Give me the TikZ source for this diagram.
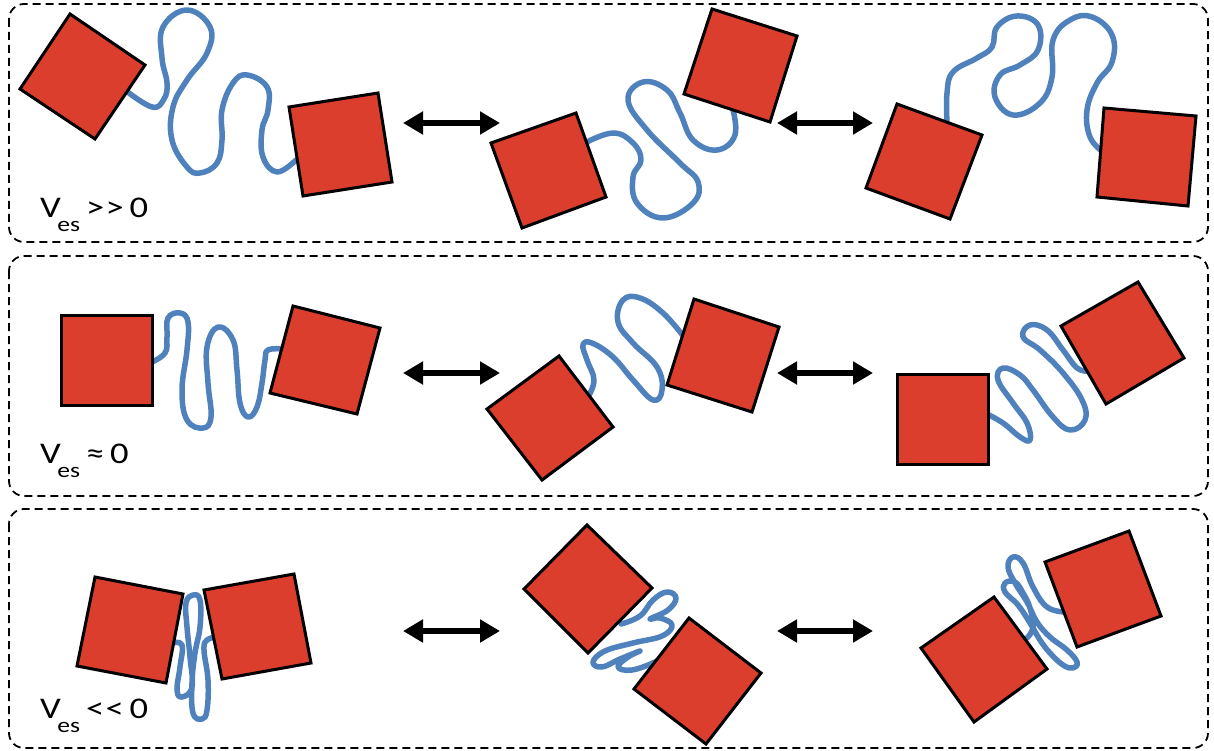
\documentclass[tikz,border=0pt]{standalone}
\usepackage{fontspec}
\setmainfont{Carlito}
\usetikzlibrary{arrows.meta}
\definecolor{boxred}{RGB}{220,62,45}
\definecolor{chainblue}{RGB}{79,129,189}
\newcommand{\veslabel}[1]{\scalebox{1.22}[1]{V\kern-3pt\raisebox{-14pt}{\fontsize{21}{21}\selectfont es}\kern5pt#1}}
\begin{document}
\begin{tikzpicture}[x=1pt,y=-1pt,
  panel/.style={draw=black, line width=1.8pt, dash pattern=on 8pt off 5pt, rounded corners=15pt},
  body/.style={draw=black, line width=3pt, fill=boxred, line join=miter},
  chain/.style={draw=chainblue, line width=5.5pt, line cap=round, line join=round},
  swap/.style={line width=5.5pt, {Triangle[length=20pt,width=22pt]}-{Triangle[length=20pt,width=22pt]}},
  lbl/.style={anchor=base west, inner sep=0pt, font=\fontsize{30}{30}\selectfont}]
\useasboundingbox (0,0) rectangle (1214,751);

% ---------- panel frames ----------
\draw[panel] (9,4) rectangle (1208,242);
\draw[panel] (9,256) rectangle (1208,496);
\draw[panel] (9,509) rectangle (1208,748);

% ---------- labels ----------
\node[lbl] (l1) at (40,218) {\veslabel{>\kern1pt> \kern-2pt0}};
\node[lbl] (l2) at (40,463) {\veslabel{≈ \kern-2pt0}};
\node[lbl] (l3) at (40,718) {\veslabel{<\kern1pt< \kern-2pt0}};

% ---------- exchange arrows ----------
\foreach \y/\n in {123/a, 373/b, 631/c}{
  \coordinate (\n1) at (403,\y);
  \coordinate (\n2) at (500,\y);
  \coordinate (\n3) at (777,\y);
  \coordinate (\n4) at (873,\y);
  \draw[swap] (\n1) -- (\n2);
  \draw[swap] (\n3) -- (\n4);
}

% ---------- linker chains ----------
% top row: extended chains
\draw[chain] plot[smooth, tension=0.7] coordinates {(125,90) (152,107) (164,99) (167,83) (162,58) (163,27) (187,10) (210,27) (207,53) (187,80) (173,107) (172,140) (187,167) (200,173) (217,163) (222,140) (222,110) (233,83) (247,75) (267,87) (268,110) (262,130) (263,157) (277,172) (296,160)};
\draw[chain] plot[smooth, tension=0.7] coordinates {(585,143) (613,133) (633,143) (641,160) (633,177) (637,203) (663,218) (693,203) (698,182) (680,163) (647,130) (628,100) (643,82) (667,90) (680,113) (693,140) (717,150) (735,135) (732,106)};
\draw[chain] plot[smooth, tension=0.7] coordinates {(947,122) (947,93) (953,72) (977,58) (992,47) (997,27) (1017,16) (1038,25) (1038,50) (1020,65) (1000,75) (995,97) (1013,115) (1040,103) (1052,77) (1053,40) (1070,20) (1092,17) (1112,35) (1112,62) (1097,83) (1087,110) (1090,137) (1103,152)};

% middle row
\draw[chain] plot[smooth, tension=0.7] coordinates {(150,363) (165,353) (167,337) (168,318) (180,313) (188,322) (187,350) (182,390) (187,420) (203,428) (211,417) (208,383) (207,347) (218,327) (233,340) (237,370) (240,403) (248,417) (257,407) (262,383) (265,360) (268,350) (283,349)};
\draw[chain] plot[smooth, tension=0.7] coordinates {(588,397) (594,380) (587,360) (583,345) (592,343) (613,357) (633,380) (653,400) (662,390) (657,367) (633,343) (618,322) (623,300) (640,298) (663,313) (684,337)};
\draw[chain] plot[smooth, tension=0.7] coordinates {(985,413) (1003,423) (1020,437) (1030,440) (1027,423) (1013,403) (998,380) (1003,368) (1020,375) (1033,390) (1053,417) (1070,430) (1085,420) (1082,400) (1063,373) (1040,350) (1023,337) (1030,325) (1047,330) (1063,350) (1077,368) (1088,371)};

% bottom row: collapsed chains
\draw[chain] plot[smooth, tension=0.7] coordinates {(172,643) (182,645) (180,667) (177,690) (182,697) (192,687) (190,657) (187,627) (186,603) (193,595) (200,600) (200,627) (195,653) (192,683) (193,713) (202,719) (207,710) (208,680) (204,650) (207,640) (217,637)};
\draw[chain] plot[smooth, tension=0.7] coordinates {(621,624) (640,616) (653,600) (667,592) (676,598) (668,610) (650,619) (660,618) (672,625) (662,636) (633,643) (605,651) (593,662) (602,667) (620,659) (640,651) (628,657) (618,667) (632,670) (655,662) (661,657)};
\draw[chain] plot[smooth, tension=0.7] coordinates {(1065,612) (1047,607) (1033,587) (1023,563) (1013,557) (1008,567) (1015,583) (1027,602) (1037,622) (1050,637) (1067,650) (1077,662) (1073,668) (1063,665) (1050,653) (1040,640) (1030,623) (1018,605) (1005,592) (1005,583) (1015,582) (1023,593) (1030,608) (1033,627) (1027,638)};

% ---------- domains ----------
% top row
\draw[body] (70,14) -- (145,65) -- (95,139) -- (20,89) -- cycle;
\draw[body] (289,107) -- (378,93) -- (392,182) -- (303,196) -- cycle;
\draw[body] (491,143) -- (576,113) -- (606,197) -- (522,228) -- cycle;
\draw[body] (712,9) -- (797,36) -- (770,122) -- (684,94) -- cycle;
\draw[body] (897,104) -- (982,135) -- (950,219) -- (866,188) -- cycle;
\draw[body] (1104,108) -- (1196,116) -- (1188,206) -- (1097,197) -- cycle;
% middle row
\draw[body] (61,315) rectangle (152,405);
\draw[body] (293,306) -- (380,328) -- (357,414) -- (270,393) -- cycle;
\draw[body] (559,356) -- (613,427) -- (542,480) -- (487,409) -- cycle;
\draw[body] (694,299) -- (779,327) -- (752,412) -- (667,385) -- cycle;
\draw[body] (897,374) rectangle (988,464);
\draw[body] (1138,282) -- (1184,358) -- (1106,404) -- (1061,326) -- cycle;
% bottom row
\draw[body] (95,577) -- (183,594) -- (166,683) -- (77,666) -- cycle;
\draw[body] (204,590) -- (294,574) -- (311,663) -- (222,679) -- cycle;
\draw[body] (587,525) -- (652,588) -- (588,653) -- (524,589) -- cycle;
\draw[body] (689,618) -- (761,673) -- (706,744) -- (634,689) -- cycle;
\draw[body] (994,597) -- (1047,669) -- (974,722) -- (921,648) -- cycle;
\draw[body] (1045,562) -- (1129,531) -- (1161,616) -- (1077,647) -- cycle;
\end{tikzpicture}
\end{document}
